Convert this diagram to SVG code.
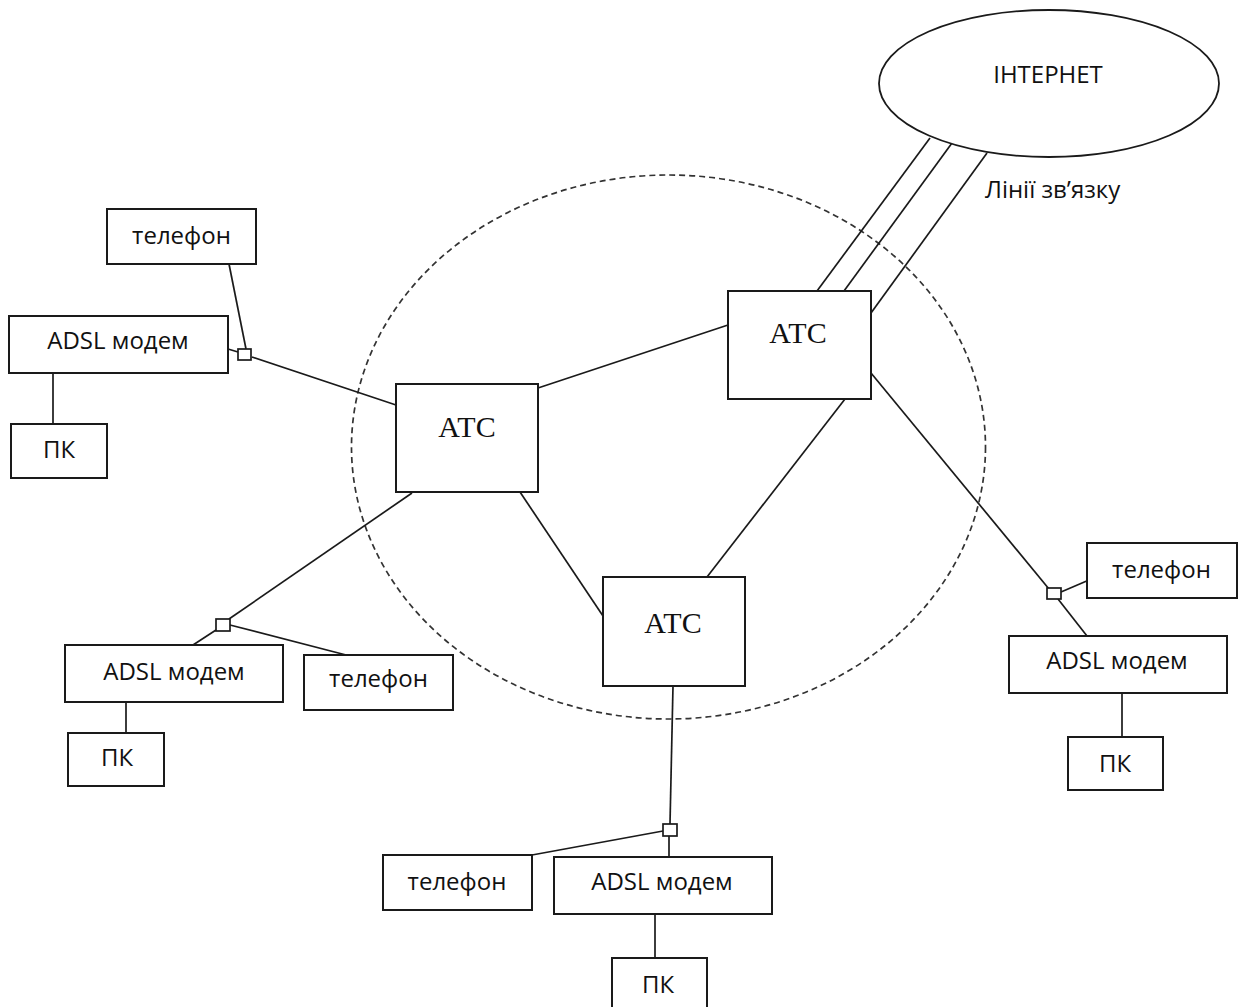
<svg xmlns="http://www.w3.org/2000/svg" width="1240" height="1007" viewBox="0 0 1240 1007">
<style>
.box{fill:#fff;stroke:#1a1a1a;stroke-width:2}
.sq{fill:#fff;stroke:#1a1a1a;stroke-width:1.7}
.ln{stroke:#1a1a1a;stroke-width:1.7;fill:none}
.t{font-family:"Open Sans","Noto Sans",sans-serif;font-size:24px;fill:#111;text-anchor:middle}
.atc{font-family:"Liberation Serif",serif;font-size:30px;fill:#111;text-anchor:middle}
</style>
<rect width="1240" height="1007" fill="#fff"/>
<ellipse id="zone" cx="668.5" cy="447" rx="317" ry="272" fill="none" stroke="#333" stroke-width="1.7" stroke-dasharray="6 4"/>
<g id="connectors">
<line class="ln" x1="930" y1="138" x2="817" y2="291"/>
<line class="ln" x1="952" y1="143" x2="844" y2="291"/>
<line class="ln" x1="987" y1="153" x2="871" y2="313"/>
<line class="ln" x1="538" y1="388" x2="728" y2="325"/>
<line class="ln" x1="520" y1="492" x2="603" y2="616"/>
<line class="ln" x1="845" y1="399" x2="707" y2="577"/>
<line class="ln" x1="229" y1="264" x2="246" y2="349"/>
<line class="ln" x1="228" y1="349" x2="238" y2="352"/>
<line class="ln" x1="252" y1="357" x2="396" y2="405"/>
<line class="ln" x1="53" y1="373" x2="53" y2="424"/>
<line class="ln" x1="412" y1="493" x2="229" y2="619"/>
<line class="ln" x1="216" y1="630" x2="193" y2="645"/>
<line class="ln" x1="230" y1="625" x2="350" y2="656"/>
<line class="ln" x1="126" y1="702" x2="126" y2="733"/>
<line class="ln" x1="673" y1="686" x2="670" y2="824"/>
<line class="ln" x1="669" y1="836" x2="669" y2="857"/>
<line class="ln" x1="663" y1="831" x2="532" y2="855"/>
<line class="ln" x1="655" y1="914" x2="655" y2="958"/>
<line class="ln" x1="871" y1="373" x2="1049" y2="589"/>
<line class="ln" x1="1058" y1="599" x2="1087" y2="636"/>
<line class="ln" x1="1061" y1="592" x2="1089" y2="580"/>
<line class="ln" x1="1122" y1="693" x2="1122" y2="737"/>
</g>
<g id="junctions">
<rect class="sq" x="238" y="349" width="13" height="11"/>
<rect class="sq" x="216" y="619" width="14" height="12"/>
<rect class="sq" x="663" y="824" width="14" height="12"/>
<rect class="sq" x="1047" y="588" width="14" height="11"/>
</g>
<g id="internet">
<ellipse cx="1049" cy="83.5" rx="170" ry="73.5" fill="#fff" stroke="#1a1a1a" stroke-width="1.8"/>
<text class="t" x="1048" y="83">ІНТЕРНЕТ</text>
</g>
<text id="lines-label" class="t" x="985" y="198" style="text-anchor:start">Лінії зв’язку</text>
<g id="atc-left"><rect class="box" x="396" y="384" width="142" height="108"/><text class="atc" x="467" y="437">АТС</text></g>
<g id="atc-right"><rect class="box" x="728" y="291" width="143" height="108"/><text class="atc" x="798" y="343">АТС</text></g>
<g id="atc-bottom"><rect class="box" x="603" y="577" width="142" height="109"/><text class="atc" x="673" y="633">АТС</text></g>
<g id="phone-tl"><rect class="box" x="107" y="209" width="149" height="55"/><text class="t" x="181.5" y="244">телефон</text></g>
<g id="modem-tl"><rect class="box" x="9" y="316" width="219" height="57"/><text class="t" x="118" y="349">ADSL модем</text></g>
<g id="pc-tl"><rect class="box" x="11" y="424" width="96" height="54"/><text class="t" x="59" y="458">ПК</text></g>
<g id="modem-bl"><rect class="box" x="65" y="645" width="218" height="57"/><text class="t" x="174" y="680">ADSL модем</text></g>
<g id="phone-bl"><rect class="box" x="304" y="655" width="149" height="55"/><text class="t" x="378.5" y="687">телефон</text></g>
<g id="pc-bl"><rect class="box" x="68" y="733" width="96" height="53"/><text class="t" x="117" y="766">ПК</text></g>
<g id="phone-b"><rect class="box" x="383" y="855" width="149" height="55"/><text class="t" x="457" y="890">телефон</text></g>
<g id="modem-b"><rect class="box" x="554" y="857" width="218" height="57"/><text class="t" x="662" y="890">ADSL модем</text></g>
<g id="pc-b"><rect class="box" x="612" y="958" width="95" height="55"/><text class="t" x="658" y="993">ПК</text></g>
<g id="phone-r"><rect class="box" x="1087" y="543" width="150" height="55"/><text class="t" x="1161.5" y="578">телефон</text></g>
<g id="modem-r"><rect class="box" x="1009" y="636" width="218" height="57"/><text class="t" x="1117" y="669">ADSL модем</text></g>
<g id="pc-r"><rect class="box" x="1068" y="737" width="95" height="53"/><text class="t" x="1115" y="772">ПК</text></g>
</svg>
